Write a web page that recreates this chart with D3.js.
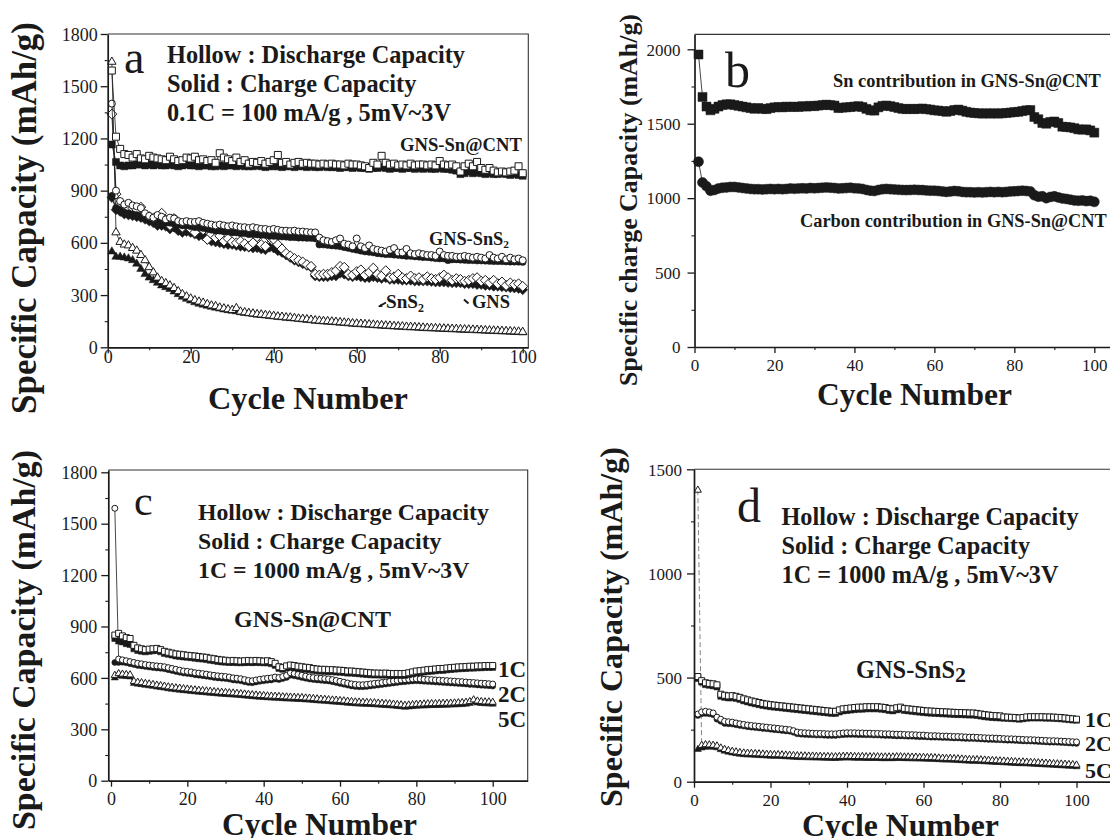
<!DOCTYPE html>
<html><head><meta charset="utf-8">
<script src="https://cdn.jsdelivr.net/npm/d3@7"></script>
<style>
body{margin:0;background:#fff;}
svg{display:block;}
text{font-family:"Liberation Serif","Times New Roman",serif;fill:#1a1a1a;}
</style>
</head><body>
<svg id="chart" width="1110" height="838"></svg>
<script>
// ---------------- DATA ----------------
const cycles = [1,2,3,4,5,6,7,8,9,10,11,12,13,14,15,16,17,18,19,20,21,22,23,24,25,26,27,28,29,30,
31,32,33,34,35,36,37,38,39,40,41,42,43,44,45,46,47,48,49,50,51,52,53,54,55,56,57,58,59,60,
61,62,63,64,65,66,67,68,69,70,71,72,73,74,75,76,77,78,79,80,81,82,83,84,85,86,87,88,89,90,
91,92,93,94,95,96,97,98,99,100];

const xTicks = [0,20,40,60,80,100];
const xMinor = [10,30,50,70,90,110];
const yTicksA = [0,300,600,900,1200,1500,1800];
const yMinorA = [150,450,750,1050,1350,1650];
const yTicksB = [0,500,1000,1500,2000];
const yMinorB = [250,750,1250,1750];
const yTicksD = [0,500,1000,1500];
const yMinorD = [250,750,1250];

// Panel a: GNS-Sn@CNT
const aCNTdis = [1590,1210,1140,1110,1105,1090,1110,1085,1080,1100,
1090,1085,1080,1075,1095,1080,1070,1075,1090,1085,
1095,1075,1080,1070,1075,1060,1115,1090,1080,1070,
1090,1065,1075,1055,1065,1060,1070,1055,1065,1075,
1105,1060,1065,1050,1060,1065,1055,1060,1055,1055,
1050,1055,1050,1055,1050,1050,1045,1055,1050,1050,
1045,1040,1030,1060,1050,1100,1060,1050,1055,1045,
1050,1045,1055,1045,1050,1050,1045,1050,1045,1070,
1050,1045,1050,1040,1010,1040,1055,1040,1065,1030,
1020,1030,1015,1005,1010,1005,1010,1015,1040,1000];
const aCNTch = [1165,1065,1045,1040,1045,1045,1050,1050,1045,1050,
1045,1050,1045,1045,1050,1045,1040,1045,1050,1045,
1045,1040,1045,1045,1040,1040,1045,1040,1045,1045,
1040,1045,1040,1040,1040,1045,1040,1035,1040,1040,
1040,1035,1040,1040,1035,1040,1040,1035,1040,1035,
1035,1040,1035,1035,1035,1030,1035,1035,1030,1035,
1030,1030,1025,1030,1030,1035,1030,1025,1030,1030,
1025,1030,1030,1025,1030,1025,1030,1025,1025,1030,
1025,1025,1020,1015,995,1000,1010,1000,1005,1000,
995,1000,995,995,1000,995,990,995,990,985];
// Panel a: GNS-SnS2
const aGSnS2dis = [1400,900,840,820,830,815,810,800,770,755,
745,760,750,735,745,740,725,720,725,720,
720,725,715,710,705,700,705,700,695,700,
695,690,690,685,690,685,680,680,675,680,
675,670,670,668,670,665,665,662,660,660,
630,615,610,605,615,625,595,590,580,625,
580,570,585,565,560,555,550,560,570,545,
545,565,540,535,540,535,530,530,525,550,
530,525,525,520,520,525,520,515,520,515,
510,530,515,510,520,505,515,505,510,500];
const aGSnS2ch = [870,800,790,775,770,765,760,755,745,740,
730,725,720,715,715,710,705,700,700,695,
690,690,685,680,675,670,670,665,665,660,
660,655,655,650,650,648,645,645,640,640,
638,636,635,632,632,630,630,628,628,625,
590,590,588,585,583,580,575,570,565,560,
555,550,548,545,540,538,535,535,532,530,
528,525,525,522,520,518,518,515,512,510,
510,500,505,505,503,502,500,500,498,498,
497,496,495,495,494,493,492,492,491,490];
// Panel a: GNS
const aGNSdis = [1340,880,830,810,790,800,790,805,760,750,
740,745,770,730,700,740,720,690,700,680,
660,700,675,620,650,630,640,610,625,605,
600,610,595,580,600,635,590,580,630,620,
590,565,540,525,510,500,490,475,465,420,
415,420,420,430,440,465,460,420,415,435,
445,415,430,455,420,410,440,400,405,420,
400,395,410,395,400,390,405,395,390,400,
415,400,385,395,390,380,385,395,400,380,
385,370,385,365,375,355,370,360,365,350];
const aGNSch = [860,790,780,765,760,755,750,745,735,725,
715,700,700,695,680,690,670,660,665,660,
650,640,640,620,610,605,600,595,590,590,
585,580,578,575,570,572,565,560,575,570,
555,545,530,515,500,490,480,470,460,410,
405,405,405,410,410,425,420,410,405,410,
405,400,400,405,400,395,400,390,390,390,
385,385,385,380,380,380,380,378,375,375,
375,372,370,370,370,365,365,365,360,360,
355,355,350,350,348,345,342,340,338,330];
// Panel a: SnS2
const aSnS2dis = [1640,660,605,590,585,570,555,530,500,460,
430,400,380,368,355,340,322,305,292,280,
270,262,256,248,240,236,228,223,218,214,
225,205,201,197,194,190,188,185,183,180,
177,175,172,171,168,165,163,161,158,155,
153,151,150,148,146,144,142,141,138,136,
135,133,132,130,128,127,125,124,122,121,
120,118,117,116,115,113,112,111,110,109,
108,107,106,105,104,103,102,101,100,99,
98,97,96,95,94,93,92,91,90,88];
const aSnS2ch = [550,520,520,515,510,500,480,450,420,400,
385,370,355,345,335,320,305,290,278,268,
258,250,244,238,232,227,222,217,213,209,
206,201,197,194,191,187,185,182,179,177,
174,172,169,167,165,162,160,157,155,152,
150,148,147,145,143,141,139,137,135,133,
132,130,129,127,125,124,122,121,119,118,
117,115,114,113,112,110,109,108,107,106,
105,104,103,102,101,100,99,98,97,96,
95,94,93,92,91,90,89,88,87,85];

// Panel b
const bSn = [1965,1680,1615,1590,1600,1615,1625,1630,1630,1625,
1620,1615,1610,1605,1600,1605,1600,1598,1605,1610,
1612,1610,1615,1612,1615,1612,1618,1615,1620,1618,
1622,1625,1628,1625,1622,1605,1608,1610,1612,1615,
1618,1612,1600,1590,1588,1610,1620,1622,1618,1612,
1605,1600,1598,1600,1598,1600,1602,1598,1595,1590,
1588,1585,1580,1585,1592,1595,1588,1580,1575,1572,
1570,1568,1570,1568,1570,1568,1570,1572,1575,1578,
1580,1585,1590,1592,1545,1530,1505,1500,1512,1515,
1505,1480,1478,1475,1470,1462,1460,1462,1455,1440];
const bCarbon = [1245,1105,1080,1050,1055,1065,1070,1072,1075,1075,
1072,1068,1065,1062,1060,1060,1058,1060,1062,1060,
1062,1060,1062,1065,1063,1065,1066,1065,1068,1066,
1068,1070,1072,1070,1068,1065,1066,1068,1070,1066,
1065,1062,1055,1050,1048,1055,1060,1062,1060,1058,
1056,1055,1054,1055,1056,1055,1054,1052,1050,1050,
1048,1045,1042,1045,1048,1046,1042,1040,1040,1038,
1040,1038,1040,1042,1040,1042,1040,1042,1045,1046,
1048,1050,1048,1045,1020,1010,1012,1000,1008,1012,
1005,998,995,990,985,982,985,980,982,975];

// Panel c: GNS-Sn@CNT at 1C, 2C, 5C
const c1Cdis = [850,860,845,835,830,790,775,770,765,768,
770,772,765,755,750,745,740,738,735,732,
730,728,725,722,720,715,712,708,705,703,
700,702,700,698,700,702,700,702,700,698,
700,695,685,665,660,670,675,672,668,665,
662,660,655,652,650,650,648,648,646,645,
643,640,640,638,636,634,632,630,628,628,
627,628,626,625,626,625,626,630,635,640,
642,645,648,650,652,655,655,658,660,662,
664,665,666,668,668,670,670,672,672,672];
const c1Cch = [830,815,810,800,795,770,760,755,752,755,
758,760,752,742,738,733,728,725,722,720,
718,715,712,710,707,703,700,696,693,692,
690,690,689,688,689,690,689,690,689,688,
688,683,673,655,650,658,662,660,656,653,
650,648,644,641,639,638,636,636,634,633,
631,628,628,626,624,622,620,618,617,617,
616,617,615,614,615,614,615,619,624,629,
631,634,637,639,641,644,644,647,649,651,
653,654,655,657,657,659,659,661,661,661];
const c2Cdis = [1590,710,705,700,695,690,685,682,678,675,
672,670,668,665,660,655,650,645,640,638,
635,630,628,625,622,618,615,612,610,608,
605,600,598,595,590,585,583,588,592,595,
598,600,605,602,608,615,630,625,620,615,
610,605,602,600,598,596,594,590,585,580,
575,570,565,562,560,560,562,565,568,570,
573,576,579,582,585,588,590,592,594,595,
594,592,591,590,588,587,585,584,582,581,
579,578,576,574,573,571,569,568,566,564];
const c2Cch = [690,690,692,688,683,678,673,670,666,663,
660,658,656,653,648,643,638,633,628,626,
623,618,616,613,610,606,603,600,598,596,
593,588,586,583,578,573,571,576,580,583,
586,588,593,590,596,603,615,612,608,603,
598,593,590,588,586,584,582,578,573,568,
563,558,553,550,548,548,550,553,556,558,
561,564,567,570,573,576,578,580,582,583,
582,580,579,578,576,575,573,572,570,569,
567,566,564,562,561,559,557,556,554,552];
const c5Cdis = [615,625,622,620,618,580,575,572,568,565,
562,558,555,552,548,545,542,540,537,535,
532,530,528,526,524,522,520,518,516,515,
513,512,510,508,506,504,502,500,498,497,
495,494,493,492,490,489,488,487,486,485,
483,482,480,478,476,475,473,471,470,468,
466,464,462,460,459,458,457,456,455,453,
452,450,449,447,445,443,440,442,444,446,
447,448,449,450,450,451,452,452,453,454,
455,456,458,462,472,465,462,460,460,458];
const c5Cch = [600,612,610,608,606,568,564,561,557,554,
551,547,544,541,537,534,531,529,526,524,
521,519,517,515,513,511,509,507,505,504,
502,501,499,497,495,493,491,489,487,486,
484,483,482,481,479,478,477,476,475,474,
472,471,469,467,465,464,462,460,459,457,
455,453,451,449,448,447,446,445,444,442,
441,439,438,436,434,432,429,431,433,435,
436,437,438,439,439,440,441,441,442,443,
444,445,447,451,460,454,451,449,449,447];

// Panel d: GNS-SnS2 at 1C, 2C, 5C
const d1Cdis = [505,485,475,472,470,465,420,415,412,413,
410,405,398,393,388,384,380,376,373,370,
368,366,364,362,360,358,356,354,352,350,
348,346,344,342,340,338,338,345,350,352,
354,356,358,358,360,360,360,360,358,356,
352,350,355,358,352,350,348,346,344,342,
340,339,338,337,336,335,334,333,332,332,
331,330,330,328,325,322,320,318,317,316,
311,310,309,308,306,308,311,312,312,312,
312,311,311,310,309,308,306,304,302,300];
const d1Cch = [495,478,466,463,460,455,410,405,402,403,
400,395,388,383,378,374,370,366,363,360,
358,356,354,352,350,348,346,344,342,340,
338,336,334,332,330,328,328,335,340,342,
344,346,348,348,350,350,350,350,348,346,
342,340,345,348,342,340,338,336,334,332,
330,329,328,327,326,325,324,323,322,322,
321,320,320,318,315,312,310,308,307,306,
305,304,303,302,300,302,305,306,306,306,
306,305,305,304,303,302,300,298,296,295];
const d2Cdis = [325,335,338,335,330,310,300,290,288,286,
282,278,275,272,270,268,266,264,262,260,
258,256,254,252,250,245,238,236,235,234,
233,232,232,231,230,230,230,232,234,235,
235,235,234,234,233,233,232,232,231,230,
230,229,228,228,227,226,226,225,224,224,
222,221,221,220,219,219,218,217,217,216,
215,214,214,213,212,211,210,210,209,208,
207,206,206,205,204,203,202,202,201,200,
199,198,197,197,196,195,194,193,192,191];
const d2Cch = [318,326,328,326,322,300,290,280,278,277,
273,270,267,264,262,260,258,256,254,252,
250,248,246,244,242,237,230,228,227,226,
225,224,224,223,222,222,222,224,226,227,
227,227,226,226,225,225,224,224,223,222,
222,221,220,220,219,218,218,217,216,216,
215,214,214,213,212,212,211,210,210,209,
208,207,207,206,205,204,203,203,202,201,
200,199,199,198,197,196,195,195,194,193,
192,191,190,190,189,188,187,186,185,184];
const d5Cdis = [1400,175,178,177,175,172,162,155,150,146,
143,140,138,137,136,135,134,133,132,131,
130,130,129,128,127,126,125,124,124,123,
123,122,122,121,121,120,120,121,122,122,
122,121,121,121,120,120,120,120,119,119,
119,119,120,120,119,119,118,118,117,117,
116,116,115,114,113,112,112,111,110,109,
108,107,106,106,105,104,103,102,101,100,
99,98,97,96,95,95,94,93,92,91,
90,89,88,87,86,85,84,83,82,80];
const d5Cch = [155,162,166,167,166,163,154,147,142,138,
135,132,130,129,128,127,126,125,124,123,
122,122,121,120,119,118,117,116,116,115,
115,114,114,113,113,112,112,113,114,114,
114,113,113,113,112,112,112,112,111,111,
111,111,112,112,111,111,110,110,109,109,
108,108,107,106,105,104,104,103,102,101,
100,99,98,98,97,96,95,94,93,92,
91,90,89,88,87,87,86,85,84,83,
82,81,80,79,78,77,76,75,74,72];

// ---------------- DRAWING ----------------
const svg = d3.select('#chart');
const INK = '#1a1a1a';

function symPath(shape, s) {
  if (shape === 'square') return d3.symbol(d3.symbolSquare, s * s)();
  if (shape === 'circle') return d3.symbol(d3.symbolCircle, Math.PI * (s / 2) * (s / 2))();
  if (shape === 'triangle') return d3.symbol(d3.symbolTriangle, 0.433 * (1.2 * s) * (1.2 * s))();
  const r = s * 0.62;
  return `M0,${-r}L${r},0L0,${r}L${-r},0Z`;
}

function fit(sel, target) {
  const n = sel.node();
  const len = n.getComputedTextLength();
  const fs = parseFloat(sel.attr('font-size'));
  sel.attr('font-size', (fs * target / len).toFixed(2));
  return sel;
}

function txt(g, str, x, y, fs, weight, anchor) {
  return g.append('text').attr('x', x).attr('y', y).attr('font-size', fs)
    .attr('font-weight', weight || 'normal').attr('text-anchor', anchor || 'start').text(str);
}

function drawPanel(p) {
  const g = svg.append('g');
  const x = d3.scaleLinear().domain(p.xDom).range([p.left, p.right]);
  const y = d3.scaleLinear().domain(p.yDom).range([p.bottom, p.top]);
  const clipId = 'clip' + p.id;
  svg.append('clipPath').attr('id', clipId).append('rect')
    .attr('x', p.left - 8).attr('y', p.top - 40).attr('width', p.right - p.left + 16).attr('height', p.bottom - p.top + 48);
  const sg = g.append('g').attr('clip-path', `url(#${clipId})`);
  const line = d3.line().x(d => x(d.c)).y(d => y(d.v));
  p.series.forEach(s => {
    const data = cycles.map((c, i) => ({ c: c, v: s.vals[i] }));
    if (s.firstDashed) {
      sg.append('path').datum(data.slice(0, 2)).attr('d', line).attr('fill', 'none')
        .attr('stroke', '#777').attr('stroke-width', 0.9).attr('stroke-dasharray', '5,3');
      sg.append('path').datum(data.slice(1)).attr('d', line).attr('fill', 'none')
        .attr('stroke', INK).attr('stroke-width', 0.8);
    } else {
      sg.append('path').datum(data).attr('d', line).attr('fill', 'none')
        .attr('stroke', INK).attr('stroke-width', 0.8);
    }
    const path = symPath(s.shape, s.size);
    sg.append('g').selectAll('path').data(data).join('path')
      .attr('d', path)
      .attr('transform', d => `translate(${x(d.c)},${y(d.v)})`)
      .attr('fill', s.filled ? INK : '#fff')
      .attr('stroke', INK).attr('stroke-width', s.filled ? 0.5 : 1);
  });
  // frame (top and right)
  g.append('path').attr('d', `M${p.left},${p.top}H${p.right}V${p.bottom}`)
    .attr('fill', 'none').attr('stroke', '#333').attr('stroke-width', 1.1);
  // x axis
  const xa = g.append('g').attr('transform', `translate(0,${p.bottom})`)
    .call(d3.axisBottom(x).tickValues(xTicks).tickSize(6).tickSizeOuter(0).tickFormat(d3.format('d')));
  xa.select('.domain').attr('stroke', INK).attr('stroke-width', 1.7);
  xa.selectAll('.tick line').attr('stroke', INK).attr('stroke-width', 1.3);
  xa.selectAll('.tick text').attr('y', p.xLab).attr('dy', null)
    .attr('font-family', '"Liberation Serif",serif').attr('font-size', p.tickFs).attr('fill', INK);
  xa.attr('font-family', null).attr('font-size', null);
  const xm = g.append('g').attr('transform', `translate(0,${p.bottom})`)
    .call(d3.axisBottom(x).tickValues(xMinor.filter(v => x(v) <= p.right)).tickSize(3).tickFormat(''));
  xm.select('.domain').remove();
  xm.selectAll('.tick line').attr('stroke', INK).attr('stroke-width', 1.1);
  // y axis
  const ya = g.append('g').attr('transform', `translate(${p.left},0)`)
    .call(d3.axisLeft(y).tickValues(p.yTicks).tickSize(7).tickSizeOuter(0).tickPadding(p.yPad).tickFormat(d3.format('d')));
  ya.select('.domain').attr('stroke', INK).attr('stroke-width', 1.7);
  ya.selectAll('.tick line').attr('stroke', INK).attr('stroke-width', 1.3);
  ya.selectAll('.tick text').attr('font-family', '"Liberation Serif",serif')
    .attr('font-size', p.tickFs).attr('fill', INK).attr('dy', '0.34em');
  ya.attr('font-family', null).attr('font-size', null);
  const ym = g.append('g').attr('transform', `translate(${p.left},0)`)
    .call(d3.axisLeft(y).tickValues(p.yMinor).tickSize(3).tickFormat(''));
  ym.select('.domain').remove();
  ym.selectAll('.tick line').attr('stroke', INK).attr('stroke-width', 1.1);
  // axis titles
  const yt = g.append('text').attr('transform', `translate(${p.yTitle.x},${p.yTitle.cy}) rotate(-90)`)
    .attr('text-anchor', 'middle').attr('font-weight', 'bold').attr('font-size', 30).text(p.yTitle.text);
  fit(yt, p.yTitle.len);
  const xt = txt(g, 'Cycle Number', p.xTitle.x, p.xTitle.y, 30, 'bold');
  fit(xt, p.xTitle.len);
  return g;
}

// ---- panel a ----
const ga = drawPanel({
  id: 'a', left: 107.7, right: 528.3, top: 34, bottom: 347.3,
  xDom: [0, 101.35], yDom: [0, 1800], yTicks: yTicksA, yMinor: yMinorA,
  tickFs: 18, xLab: 16, yPad: 3,
  yTitle: { text: 'Specific Capacity (mAh/g)', x: 36, cy: 218, len: 392 },
  xTitle: { x: 208, y: 409, len: 200 },
  series: [
    { vals: aSnS2ch, shape: 'triangle', filled: true, size: 7 },
    { vals: aSnS2dis, shape: 'triangle', filled: false, size: 7 },
    { vals: aGNSch, shape: 'diamond', filled: true, size: 8 },
    { vals: aGNSdis, shape: 'diamond', filled: false, size: 8 },
    { vals: aGSnS2ch, shape: 'circle', filled: true, size: 7 },
    { vals: aGSnS2dis, shape: 'circle', filled: false, size: 7 },
    { vals: aCNTch, shape: 'square', filled: true, size: 7 },
    { vals: aCNTdis, shape: 'square', filled: false, size: 7 }
  ]
});
txt(ga, 'a', 124, 73, 46, 'normal');
{
  const l1 = txt(ga, 'Hollow : Discharge Capacity', 167, 63, 22, 'bold');
  fit(l1, 298);
  const fs = l1.attr('font-size');
  txt(ga, 'Solid : Charge Capacity', 167, 92, fs, 'bold');
  txt(ga, '0.1C = 100 mA/g , 5mV~3V', 167, 121, fs, 'bold');
  fit(txt(ga, 'GNS-Sn@CNT', 400, 151, 19, 'bold'), 122);
  const t = txt(ga, 'GNS-SnS', 429, 245, 19, 'bold');
  t.append('tspan').attr('font-size', '0.62em').attr('dy', '0.3em').text('2');
  fit(t, 80);
  const s = txt(ga, 'SnS', 386, 308, 19, 'bold');
  s.append('tspan').attr('font-size', '0.62em').attr('dy', '0.3em').text('2');
  fit(s, 38);
  fit(txt(ga, 'GNS', 472, 308, 19, 'bold'), 38);
  ga.append('path').attr('d', 'M379,306.5L386,302.5').attr('stroke', INK).attr('stroke-width', 2);
  ga.append('path').attr('d', 'M378,307L381.5,303.5L382.5,307Z').attr('fill', INK);
  ga.append('path').attr('d', 'M464,299.5L468.5,303.5').attr('stroke', INK).attr('stroke-width', 2);
}

// ---- panel b ----
const gb = drawPanel({
  id: 'b', left: 694.5, right: 1114.3, top: 34.4, bottom: 347,
  xDom: [0, 105], yDom: [0, 2100], yTicks: yTicksB, yMinor: yMinorB,
  tickFs: 17, xLab: 24, yPad: 7,
  yTitle: { text: 'Specific charge Capacity (mAh/g)', x: 637, cy: 200, len: 372 },
  xTitle: { x: 817, y: 405, len: 195 },
  series: [
    { vals: bCarbon, shape: 'circle', filled: true, size: 10 },
    { vals: bSn, shape: 'square', filled: true, size: 9 }
  ]
});
txt(gb, 'b', 725, 87, 50, 'normal');
{
  const c = txt(gb, 'Carbon contribution in GNS-Sn@CNT', 800, 227, 18, 'bold');
  fit(c, 307);
  const s = txt(gb, 'Sn contribution in GNS-Sn@CNT', 833, 87, 18, 'bold');
  fit(s, 268);
}

// ---- panel c ----
const gc = drawPanel({
  id: 'c', left: 108.3, right: 527.7, top: 470, bottom: 780.7,
  xDom: [-0.707, 109.17], yDom: [0, 1813.4], yTicks: yTicksA, yMinor: yMinorA,
  tickFs: 18, xLab: 24.5, yPad: 4,
  yTitle: { text: 'Specific Capacity (mAh/g)', x: 35, cy: 640, len: 380 },
  xTitle: { x: 222, y: 835, len: 195 },
  series: [
    { vals: c5Cch, shape: 'triangle', filled: true, size: 6 },
    { vals: c5Cdis, shape: 'triangle', filled: false, size: 6 },
    { vals: c2Cch, shape: 'circle', filled: true, size: 6 },
    { vals: c2Cdis, shape: 'circle', filled: false, size: 6 },
    { vals: c1Cch, shape: 'square', filled: true, size: 6 },
    { vals: c1Cdis, shape: 'square', filled: false, size: 6 }
  ]
});
txt(gc, 'c', 134, 515, 42, 'normal');
{
  const l1 = txt(gc, 'Hollow : Discharge Capacity', 198, 520, 22, 'bold');
  fit(l1, 291);
  const fs = l1.attr('font-size');
  txt(gc, 'Solid : Charge Capacity', 198, 549, fs, 'bold');
  txt(gc, '1C = 1000 mA/g , 5mV~3V', 198, 578, fs, 'bold');
  fit(txt(gc, 'GNS-Sn@CNT', 234, 627, 22, 'bold'), 157);
  txt(gc, '1C', 498, 677, 23, 'bold');
  txt(gc, '2C', 498, 702, 23, 'bold');
  txt(gc, '5C', 498, 727, 23, 'bold');
}

// ---- panel d ----
const gd = drawPanel({
  id: 'd', left: 694, right: 1114.75, top: 469.3, bottom: 781.7,
  xDom: [0, 110], yDom: [0, 1500], yTicks: yTicksD, yMinor: yMinorD,
  tickFs: 17, xLab: 24, yPad: 5,
  yTitle: { text: 'Specific Capacity (mAh/g)', x: 622, cy: 627, len: 360 },
  xTitle: { x: 802, y: 836, len: 197 },
  series: [
    { vals: d5Cch, shape: 'triangle', filled: true, size: 6 },
    { vals: d5Cdis, shape: 'triangle', filled: false, size: 6, firstDashed: true },
    { vals: d2Cch, shape: 'circle', filled: true, size: 6 },
    { vals: d2Cdis, shape: 'circle', filled: false, size: 6 },
    { vals: d1Cch, shape: 'square', filled: true, size: 6 },
    { vals: d1Cdis, shape: 'square', filled: false, size: 6 }
  ]
});
txt(gd, 'd', 737, 522, 48, 'normal');
{
  const l1 = txt(gd, 'Hollow : Discharge Capacity', 781.5, 525, 22, 'bold');
  fit(l1, 297);
  const fs = l1.attr('font-size');
  txt(gd, 'Solid : Charge Capacity', 781.5, 554, fs, 'bold');
  txt(gd, '1C = 1000 mA/g , 5mV~3V', 781.5, 583, fs, 'bold');
  const t = txt(gd, 'GNS-SnS', 856, 678, 22, 'bold');
  t.append('tspan').attr('font-size', '0.9em').attr('dy', '0.2em').text('2');
  fit(t, 110);
  txt(gd, '1C', 1085, 727, 22, 'bold');
  txt(gd, '2C', 1085, 751, 22, 'bold');
  txt(gd, '5C', 1085, 778, 22, 'bold');
}
</script>
</body></html>
